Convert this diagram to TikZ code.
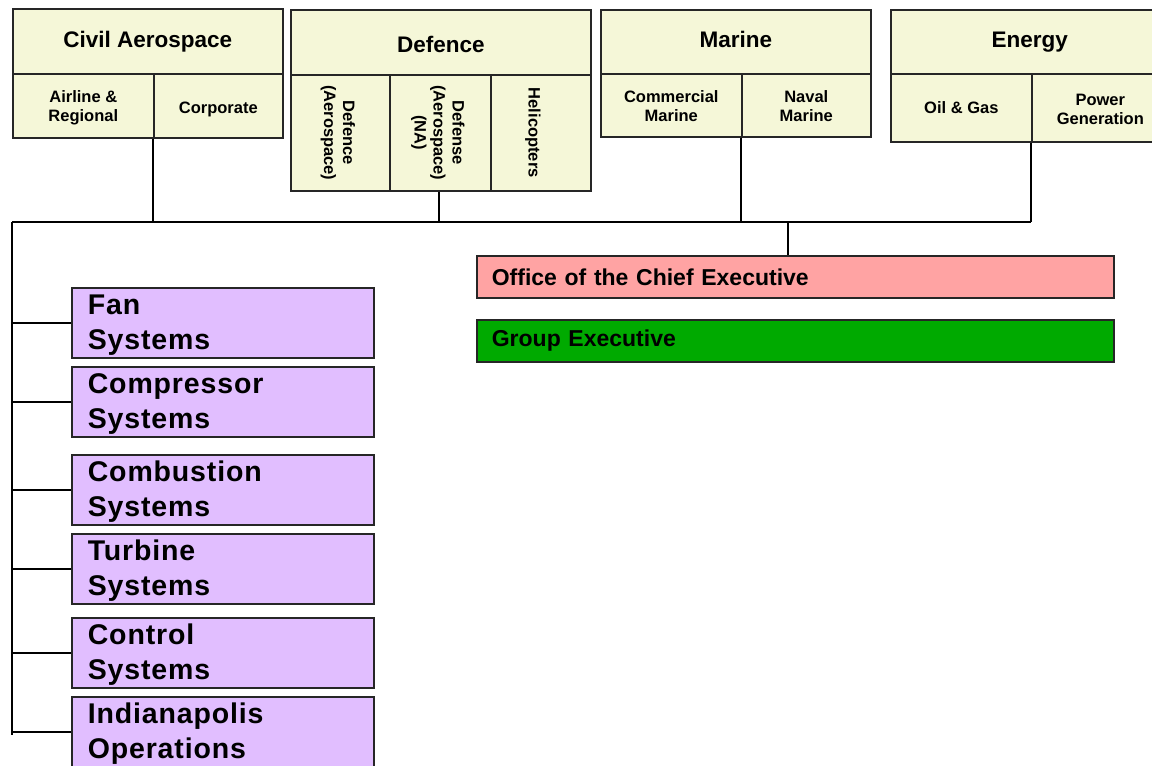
\documentclass[tikz,border=0pt]{standalone}
\usepackage{fontspec}
\usepackage{graphicx}
\setmainfont{Liberation Sans}
\newfontfamily\widefont[LetterSpace=3]{Liberation Sans}
\definecolor{cellyellow}{RGB}{245,247,216}
\definecolor{unitpurple}{RGB}{225,190,255}
\definecolor{officepink}{RGB}{255,163,163}
\definecolor{groupgreen}{RGB}{0,170,0}
\newcommand{\shiftdown}[2]{\raisebox{-#1}[\height][\depth]{#2}}
\begin{document}
\begin{tikzpicture}[x=1pt,y=-1pt,
  cell/.style={draw=black!85,line width=1.6pt,fill=cellyellow,anchor=north west,inner sep=0pt,align=center},
  head/.style={cell,font=\fontsize{22.5}{26}\selectfont\bfseries},
  sub/.style={cell,font=\fontsize{16.5}{19}\selectfont\bfseries},
  unit/.style={draw=black!85,line width=1.6pt,fill=unitpurple,anchor=north west,inner xsep=16pt,inner ysep=0pt,
     text width=270pt,minimum height=70pt,align=left,font=\fontsize{28.5}{35}\selectfont\bfseries\widefont},
  bar/.style={draw=black!85,line width=1.6pt,anchor=north west,inner xsep=15pt,inner ysep=0pt,
     text width=607pt,minimum height=42pt,align=left,font=\fontsize{23}{26}\selectfont\bfseries},
  link/.style={draw=black,line width=1.6pt}]
\useasboundingbox[fill=white] (0,0) rectangle (1152,766);
% Civil Aerospace
\node[head,minimum width=270pt,minimum height=65pt] (civ) at (12,8) {Civil Aerospace};
\node[sub,minimum width=141pt,minimum height=64pt] (air) at (12,73) {\shiftdown{2pt}{\begin{tabular}{@{}c@{}}Airline \&\\Regional\end{tabular}}};
\node[sub,minimum width=129pt,minimum height=64pt] (corp) at (153,73) {\shiftdown{4pt}{Corporate}};
% Defence
\node[head,minimum width=300pt,minimum height=65pt] (def) at (290,9) {\shiftdown{2pt}{Defence}};
\node[sub,minimum width=99pt,minimum height=116pt] (dae) at (290,74)
  {\rotatebox{-90}{\begin{tabular}{@{}c@{}}Defence\\(Aerospace)\end{tabular}}\hspace*{6pt}};
\node[sub,minimum width=101pt,minimum height=116pt] (dna) at (389,74)
  {\rotatebox{-90}{\begin{tabular}{@{}c@{}}Defense\\(Aerospace)\\(NA)\end{tabular}}\hspace*{6pt}};
\node[sub,minimum width=100pt,minimum height=116pt] (heli) at (490,74)
  {\rotatebox{-90}{Helicopters}\hspace*{16pt}};
% Marine
\node[head,minimum width=270pt,minimum height=64pt] (mar) at (600,9) {\shiftdown{-2pt}{Marine}};
\node[sub,minimum width=141pt,minimum height=63pt] (com) at (600,73) {\shiftdown{3pt}{\begin{tabular}{@{}c@{}}Commercial\\Marine\end{tabular}}};
\node[sub,minimum width=129pt,minimum height=63pt] (nav) at (741,73) {\shiftdown{3pt}{\begin{tabular}{@{}c@{}}Naval\\Marine\end{tabular}}};
% Energy
\node[head,minimum width=278pt,minimum height=64pt] (ene) at (890,9) {Energy};
\node[sub,minimum width=141pt,minimum height=68pt] (oil) at (890,73) {Oil \& Gas};
\node[sub,minimum width=137pt,minimum height=68pt] (pow) at (1031,73) {\shiftdown{3pt}{\begin{tabular}{@{}c@{}}Power\\Generation\end{tabular}}};
% Office / Group
\node[bar,fill=officepink] (office) at (476,255) {Office of the Chief Executive};
\node[bar,fill=groupgreen] (group) at (476,319) {Group Executive};
% Units
\node[unit] (fan) at (71,287) {\shiftdown{2pt}{\begin{tabular}{@{}l@{}}Fan\\Systems\end{tabular}}};
\node[unit] (comp) at (71,366) {\shiftdown{2pt}{\begin{tabular}{@{}l@{}}Compressor\\Systems\end{tabular}}};
\node[unit] (comb) at (71,454) {\shiftdown{2pt}{\begin{tabular}{@{}l@{}}Combustion\\Systems\end{tabular}}};
\node[unit] (turb) at (71,533) {\shiftdown{2pt}{\begin{tabular}{@{}l@{}}Turbine\\Systems\end{tabular}}};
\node[unit] (ctrl) at (71,617) {\shiftdown{2pt}{\begin{tabular}{@{}l@{}}Control\\Systems\end{tabular}}};
\node[unit] (indy) at (71,696) {\shiftdown{2pt}{\begin{tabular}{@{}l@{}}Indianapolis\\Operations\end{tabular}}};
% connectors
\coordinate (busL) at (12,222);
\coordinate (busR) at (1031,222);
\coordinate (oceTop) at (788,222);
\coordinate (leftEnd) at (12,735);
\draw[link] (busL) -- (busR);
\draw[link] (corp.south west) -- (corp.south west |- busL);
\draw[link] ([xshift=-1.5pt]dna.south) -- ([xshift=-1.5pt]dna.south |- busL);
\draw[link] (nav.south west) -- (nav.south west |- busL);
\draw[link] (pow.south west) -- (pow.south west |- busL);
\draw[link] (oceTop) -- (oceTop |- office.north);
\draw[link] (busL) -- (leftEnd);
\foreach \n in {fan,comp,comb,turb,ctrl,indy}
  \draw[link] (\n.west -| busL) -- (\n.west);
\end{tikzpicture}
\end{document}
